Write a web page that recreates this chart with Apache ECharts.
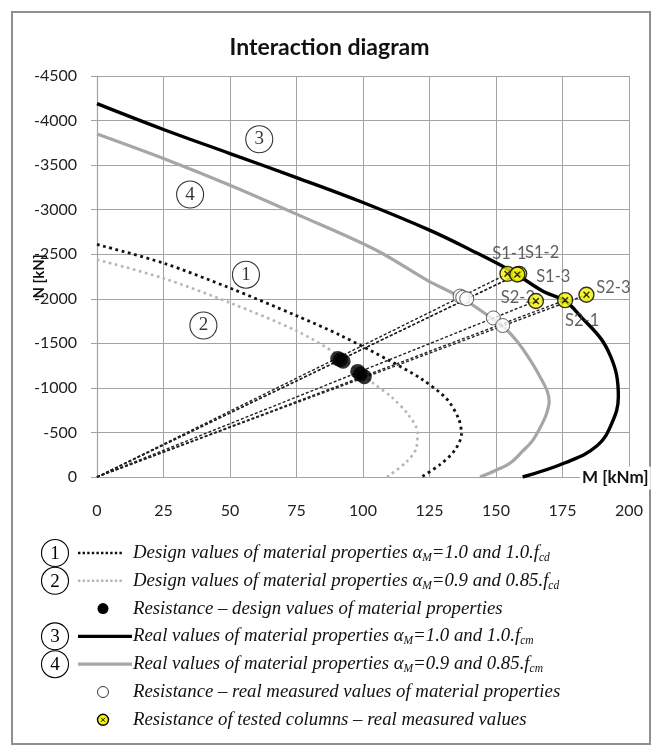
<!DOCTYPE html>
<html><head><meta charset="utf-8">
<script src="https://cdn.jsdelivr.net/npm/echarts@6/dist/echarts.min.js"></script>
<style>html,body{margin:0;padding:0;background:#fff}#c{width:659px;height:755px}</style>
</head><body><div id="c"></div>
<script>
// ---- data (M in kNm, N in kN) ----
const designCurve10 = [[0,-2610],[25,-2400],[50,-2120],[75,-1810],[91.5,-1590],[110,-1305],[122,-1100],[131.5,-875],[136,-650],[137,-480],[134.5,-300],[129,-140],[122,0]];
const designCurve09 = [[0,-2440],[25,-2230],[50,-1955],[75,-1640],[90,-1380],[104,-1050],[111,-890],[117,-700],[120.5,-500],[120,-320],[116,-160],[109,0]];
const realCurve10 = [[0,-4190],[25,-3900],[50,-3630],[75,-3360],[100,-3080],[125,-2770],[141,-2540],[154,-2340],[161,-2210],[168,-2080],[176,-1975],[182.5,-1780],[189.5,-1550],[193,-1360],[195.3,-1150],[196,-900],[193.5,-600],[188,-350],[176,-160],[160,0]];
const realCurve09 = [[0,-3850],[25,-3575],[50,-3275],[75,-2950],[105,-2545],[124,-2210],[137,-2010],[148.5,-1780],[153,-1680],[158,-1520],[163,-1305],[167,-1100],[169.3,-960],[170,-850],[169.4,-750],[168.2,-650],[164,-420],[160,-290],[155.5,-160],[150,-75],[144,0]];
const designResistance = [[90.5,-1330],[91.5,-1315],[92.5,-1300],[98,-1185],[99,-1155],[100.5,-1125]];
const realResistance = [[136.5,-2030],[137.5,-2015],[139,-2000],[149,-1785],[152.5,-1700]];
const testNames = ['S1-1','S1-2','S1-3','S2-1','S2-2','S2-3'];
const testM = [154.3,158.7,158,176,165,184];
const testN = [-2280,-2280,-2272,-1985,-1975,-2045];
const curveTags = ['1','2','3','4'];
const curveTagM = [56,40,61,35];
const curveTagN = [-2270,-1700,-3790,-3170];
const xMin = 0, xMax = 200, xStep = 25;
const yMin = -4500, yMax = 0, yStep = 500;
const xName = 'M [kNm]', yName = 'N [kN]';
const legendTexts = [
  '{i|Design values of material properties α}{s|M}{i|=1.0 and 1.0.f}{s|cd}',
  '{i|Design values of material properties α}{s|M}{i|=0.9 and 0.85.f}{s|cd}',
  '{i|Resistance – design values of material properties}',
  '{i|Real values of material properties α}{s|M}{i|=1.0 and 1.0.f}{s|cm}',
  '{i|Real values of material properties α}{s|M}{i|=0.9 and 0.85.f}{s|cm}',
  '{i|Resistance – real measured values of material properties}',
  '{i|Resistance of tested columns – real measured values}'
];

// ---- styles ----
const testLabelOffset = [[2,-20],[23,-21],[36,2],[17,21],[-18,-3],[27,-7]];
const gridGray = '#a3a3a3';
const sans = 'Lato';
const serif = 'Liberation Serif';
const yellowSym = 'path://M10,1A9,9,0,1,1,10,19A9,9,0,1,1,10,1ZM6.5,6.5L13.5,13.5M13.5,6.5L6.5,13.5';

const chart = echarts.init(document.getElementById('c'));
const series = [];
series.push({type:'line', data:designCurve09, symbol:'none', smooth:0.3, silent:true, z:2,
  lineStyle:{color:'#b5b5b5', width:2.6, type:[2.6,3.6]}});
series.push({type:'line', data:designCurve10, symbol:'none', smooth:0.3, silent:true, z:2,
  lineStyle:{color:'#111', width:2.8, type:[2.8,3.6]}});
series.push({type:'line', data:realCurve09, symbol:'none', smooth:0.35, silent:true, z:2,
  lineStyle:{color:'#a6a6a6', width:3.2}});
series.push({type:'line', data:realCurve10, symbol:'none', smooth:0.4, silent:true, z:2,
  lineStyle:{color:'#000', width:3.4}});
testM.forEach((m,i)=>{
  series.push({type:'line', data:[[0,0],[m,testN[i]]], symbol:'none', silent:true, z:3,
    lineStyle:{color:'#222', width:1.4, type:[3,2]}});
});
series.push({type:'scatter', data:designResistance, symbol:'circle', symbolSize:15, silent:true, z:4,
  itemStyle:{color:'#000'}});
series.push({type:'scatter', data:realResistance, symbol:'circle', symbolSize:14, silent:true, z:4,
  itemStyle:{color:'#fff', borderColor:'#222', borderWidth:0.9}});
series.push({type:'scatter', silent:true, z:5, symbolSize:1, itemStyle:{color:'transparent'},
  data:testNames.map((n,i)=>({name:n, value:[testM[i],testN[i]],
    label:{show:true, position:'inside', offset:testLabelOffset[i], formatter:n,
      fontFamily:sans, fontSize:16.5, color:'#3a3a3a'}}))});
series.push({type:'scatter', silent:true, z:6, symbol:yellowSym, symbolSize:15,
  itemStyle:{color:'#f2f20a', borderColor:'#000', borderWidth:1.4},
  data:testM.map((m,i)=>[m,testN[i]])});
series.push({type:'scatter', silent:true, z:7, symbol:'circle', symbolSize:27,
  itemStyle:{color:'#fff', borderColor:'#000', borderWidth:1.1},
  label:{show:true, position:'inside', formatter:p=>p.name, fontFamily:serif, fontSize:19, color:'#000'},
  data:curveTags.map((t,i)=>({name:t, value:[curveTagM[i],curveTagN[i]]}))});

// frame, x-axis name and legend graphics
const g = [];
g.push({type:'rect', shape:{x:12,y:12,width:638,height:732}, style:{fill:'none', stroke:'#8f8f8f', lineWidth:2}, silent:true});
g.push({type:'text', z:100, silent:true, style:{x:580, y:478, text:xName, font:'bold 17px Lato', fill:'#111',
  backgroundColor:'#fff', padding:[3,2,3,2], verticalAlign:'middle', align:'left'}});
const rowY = i => 553 + i*27.8;
const tagRows = {0:'1',1:'2',3:'3',4:'4'};
Object.keys(tagRows).forEach(r=>{
  const y = rowY(+r);
  g.push({type:'circle', shape:{cx:55, cy:y, r:13.5}, style:{fill:'#fff', stroke:'#000', lineWidth:1.1}, silent:true});
  g.push({type:'text', style:{x:55, y:y+1, text:tagRows[r], font:'19px "Liberation Serif"', fill:'#000', align:'center', verticalAlign:'middle'}, silent:true});
});
g.push({type:'line', shape:{x1:78,y1:rowY(0),x2:124,y2:rowY(0)}, style:{stroke:'#111', lineWidth:2.4, lineDash:[2.4,2.2]}, silent:true});
g.push({type:'line', shape:{x1:78,y1:rowY(1),x2:124,y2:rowY(1)}, style:{stroke:'#b5b5b5', lineWidth:2.4, lineDash:[2.4,2.2]}, silent:true});
g.push({type:'circle', shape:{cx:103, cy:rowY(2), r:5.5}, style:{fill:'#000'}, silent:true});
g.push({type:'line', shape:{x1:78,y1:rowY(3),x2:132,y2:rowY(3)}, style:{stroke:'#000', lineWidth:3.2}, silent:true});
g.push({type:'line', shape:{x1:78,y1:rowY(4),x2:132,y2:rowY(4)}, style:{stroke:'#a6a6a6', lineWidth:3.2}, silent:true});
g.push({type:'circle', shape:{cx:103, cy:rowY(5), r:5.5}, style:{fill:'#fff', stroke:'#222', lineWidth:0.9}, silent:true});
g.push({type:'circle', shape:{cx:103, cy:rowY(6), r:5.5}, style:{fill:'#f2f20a', stroke:'#000', lineWidth:1.4}, silent:true});
g.push({type:'line', shape:{x1:101,y1:rowY(6)-2,x2:105,y2:rowY(6)+2}, style:{stroke:'#000', lineWidth:0.9}, silent:true});
g.push({type:'line', shape:{x1:105,y1:rowY(6)-2,x2:101,y2:rowY(6)+2}, style:{stroke:'#000', lineWidth:0.9}, silent:true});
legendTexts.forEach((t,i)=>{
  g.push({type:'text', silent:true, style:{x:133, y:rowY(i), text:t, verticalAlign:'middle', align:'left',
    rich:{
      i:{fontFamily:serif, fontStyle:'italic', fontSize:18.8, lineHeight:22, fill:'#111'},
      s:{fontFamily:serif, fontStyle:'italic', fontSize:11.5, lineHeight:12, verticalAlign:'bottom', fill:'#111'}
    }}});
});

chart.setOption({
  animation:false,
  backgroundColor:'#fff',
  title:{text:'Interaction diagram', left:'center', top:31,
    textStyle:{fontFamily:sans, fontWeight:'bold', fontSize:23, color:'#111'}},
  grid:{left:97, right:30, top:76, bottom:278, containLabel:false},
  xAxis:{type:'value', min:xMin, max:xMax, interval:xStep,
    axisLine:{show:true, lineStyle:{color:gridGray, width:1.2}},
    axisTick:{show:false},
    splitLine:{show:true, lineStyle:{color:gridGray, width:1}},
    axisLabel:{margin:26, fontFamily:sans, fontSize:16, color:'#222'}},
  yAxis:{type:'value', min:yMin, max:yMax, interval:yStep, inverse:true,
    axisLine:{show:true, lineStyle:{color:gridGray, width:1.2}},
    axisTick:{show:true, length:6, lineStyle:{color:gridGray}},
    splitLine:{show:true, lineStyle:{color:gridGray, width:1}},
    axisLabel:{margin:20, fontFamily:sans, fontSize:16, color:'#222', formatter:v=>String(v)},
    name:yName, nameLocation:'middle', nameRotate:90, nameGap:50, nameMoveOverlap:false,
    nameTextStyle:{fontFamily:sans, fontWeight:'bold', fontSize:15, color:'#111', backgroundColor:'#fff', padding:[0,2,0,2]}},
  series:series,
  graphic:g
});
</script></body></html>
